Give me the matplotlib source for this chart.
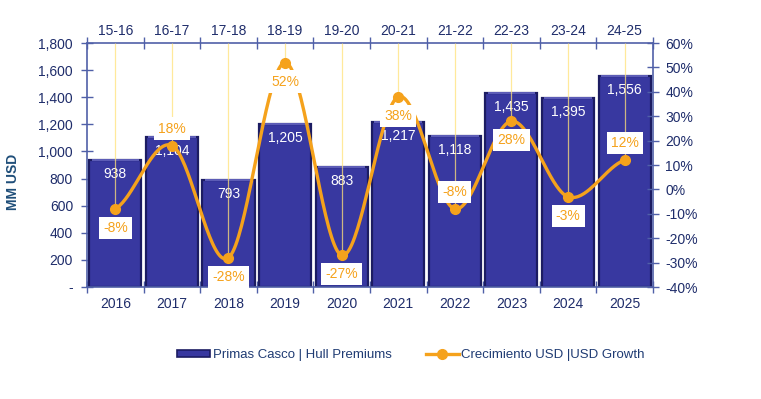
import numpy as np
import matplotlib
matplotlib.use("Agg")
import matplotlib.pyplot as plt
from matplotlib.lines import Line2D
from matplotlib.patches import Patch

years = ["2016", "2017", "2018", "2019", "2020", "2021", "2022", "2023", "2024", "2025"]
periods = ["15-16", "16-17", "17-18", "18-19", "19-20", "20-21", "21-22", "22-23", "23-24", "24-25"]
premiums = [938, 1104, 793, 1205, 883, 1217, 1118, 1435, 1395, 1556]
growth = [-8, 18, -28, 52, -27, 38, -8, 28, -3, 12]
growth_label_side = ["below", "above", "below", "below", "below", "below", "above", "below", "below", "above"]
left_ticks = [0, 200, 400, 600, 800, 1000, 1200, 1400, 1600, 1800]
right_ticks = [-40, -30, -20, -10, 0, 10, 20, 30, 40, 50, 60]

plt.rcParams['font.family'] = ['Liberation Sans', 'DejaVu Sans']
NAVY = '#1F2D6B'
AXC = '#5060A8'
BAR = '#3838A0'
BAR_EDGE = '#1C1C62'
ORANGE = '#F5A21C'
YEL = '#FFE27A'
FS = 10
LFS = 9.5

fig = plt.figure(figsize=(7.61, 3.99), dpi=100)
ax = fig.add_axes([0.1143, 0.2807, 0.7437, 0.6113])
x = np.arange(len(years))

bars = ax.bar(x, premiums, width=0.92, color=BAR, edgecolor=BAR_EDGE, linewidth=1.6, zorder=2)
for b in bars:
    ax.plot([b.get_x() + 0.04, b.get_x() + b.get_width() - 0.04],
            [b.get_height(), b.get_height()], color='#6A6AC8', lw=1.2, zorder=3,
            solid_capstyle='butt')
for xi, v in zip(x, premiums):
    ax.annotate(f"{v:,}", (xi, v), xytext=(0, -14), textcoords='offset pixels',
                ha='center', va='center', color='white', fontsize=FS, zorder=4)

ax.set_xlim(-0.5, len(years) - 0.5)
ax.set_ylim(0, 1800)
ax.set_yticks(left_ticks)
ax.set_yticklabels(["-" if t == 0 else f"{t:,}" for t in left_ticks])
ax.set_xticks(x)
ax.set_xticklabels(years)
ax.set_xticks(np.arange(len(years) + 1) - 0.5, minor=True)
ax.tick_params(axis='x', which='major', length=0, pad=7, labelsize=FS, labelcolor=NAVY)
ax.tick_params(axis='x', which='minor', length=8, direction='inout', color=AXC, width=1)
ax.tick_params(axis='y', length=8, direction='inout', color=AXC, width=1, labelsize=FS,
               labelcolor=NAVY, pad=6)
for s in ['top', 'right']:
    ax.spines[s].set_visible(False)
for s in ['left', 'bottom']:
    ax.spines[s].set_color(AXC)
    ax.spines[s].set_linewidth(1.2)
ax.set_ylabel("MM USD", fontsize=FS, fontweight='bold', color='#1F4E79')
ax.yaxis.set_label_coords(-0.118, 0.43)

# top category axis
top = ax.secondary_xaxis('top')
top.set_xticks(x)
top.set_xticklabels(periods)
top.set_xticks(np.arange(len(years) + 1) - 0.5, minor=True)
top.tick_params(axis='x', which='major', length=0, pad=4, labelsize=FS, labelcolor=NAVY)
top.tick_params(axis='x', which='minor', length=8, direction='inout', color=AXC, width=1)
top.spines['top'].set_color(AXC)
top.spines['top'].set_linewidth(1.2)

# secondary value axis
ax2 = ax.twinx()
ax2.set_ylim(-40, 60)
ax2.set_yticks(right_ticks)
ax2.set_yticklabels([f"{t}%" for t in right_ticks])
ax2.tick_params(axis='y', length=8, direction='inout', color=AXC, width=1, labelsize=FS,
                labelcolor=NAVY, pad=5)
for s in ['left', 'bottom', 'top']:
    ax2.spines[s].set_visible(False)
ax2.spines['right'].set_color(AXC)
ax2.spines['right'].set_linewidth(1.2)

ax2.vlines(x, growth, 60, color=YEL, lw=0.9, alpha=0.75, zorder=1)

# smoothed line (Catmull-Rom through the data points)
g = np.array(growth, dtype=float)
xs, ys = [], []
for i in range(len(g) - 1):
    p0 = g[i - 1] if i > 0 else g[i]
    p1, p2 = g[i], g[i + 1]
    p3 = g[i + 2] if i + 2 < len(g) else g[i + 1]
    t = np.linspace(0, 1, 40)
    yy = 0.5 * ((2 * p1) + (-p0 + p2) * t + (2 * p0 - 5 * p1 + 4 * p2 - p3) * t ** 2
                + (-p0 + 3 * p1 - 3 * p2 + p3) * t ** 3)
    xs.append(i + t)
    ys.append(yy)
ax2.plot(np.concatenate(xs), np.concatenate(ys), color=ORANGE, lw=2.4, zorder=5,
         solid_capstyle='round')
ax2.plot(x, growth, 'o', color=ORANGE, ms=7, zorder=6)

for xi, v, side in zip(x, growth, growth_label_side):
    dy = -19 if side == 'below' else 17
    ax2.annotate(f"{v}%", (xi, v), xytext=(0, dy), textcoords='offset pixels',
                 ha='center', va='center', color=ORANGE, fontsize=FS, zorder=7,
                 bbox=dict(boxstyle='square,pad=0.3', fc='white', ec='none'))

handles = [Patch(facecolor=BAR, edgecolor=BAR_EDGE, linewidth=1.2),
           Line2D([0], [0], color=ORANGE, lw=2.4, marker='o', ms=7)]
labels = ["Primas Casco | Hull Premiums", "Crecimiento USD |USD Growth"]
fig.legend(handles, labels, loc='center', bbox_to_anchor=(0.54, 0.11), ncol=2, frameon=False,
           fontsize=LFS, labelcolor='#1F3B73', handlelength=2.5, handleheight=0.4,
           columnspacing=2.6, handletextpad=0.2)

fig.savefig("out.png", dpi=100)
